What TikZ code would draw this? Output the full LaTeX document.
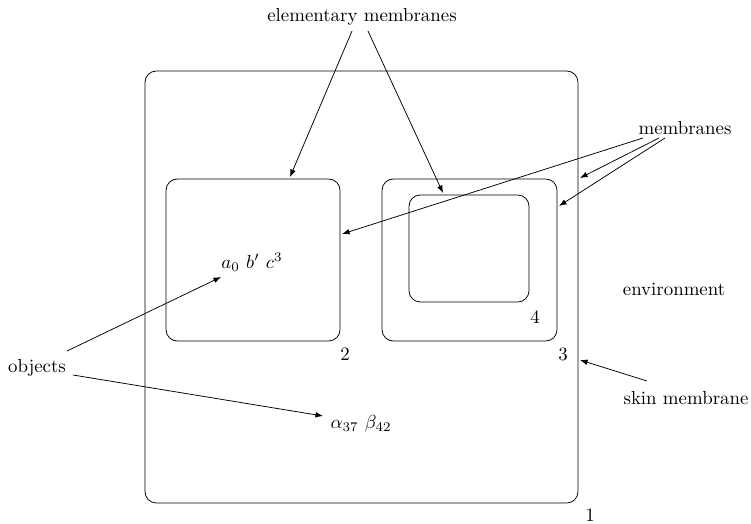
\documentclass[tikz,border=0pt]{standalone}
\usepackage{xcolor}
\usepackage{tikz}
\usetikzlibrary{positioning,fit,arrows.meta}

\begin{document}
\begin{tikzpicture}[x=0.53pt, y=-0.53pt, node distance = 0.3em, >={Latex[length=4pt,width=3pt]}]
            \tikzstyle{membrane} = [draw, rounded corners=6pt, inner sep=0pt];
            \tikzstyle{tag} = [inner sep=1pt]
            \useasboundingbox (0,0) rectangle (751,524);

            \node [membrane, fit={(145,71) (578,503)}] (M1) {};
            \node [membrane, fit={(166,179) (340,341)}] (M2) {};
            \node [membrane, fit={(382,179) (557,341)}] (M3) {};
            \node [membrane, fit={(409,195) (529,302)}] (M4) {};

            \node [tag] (N1) at (590,515) {1};
            \node [tag] (N2) at (345,354) {2};
            \node [tag] (N3) at (563,354) {3};
            \node [tag] (N4) at (535,317) {4};

            \node [tag] (elem) at (362,17) {elementary membranes};
            \node [tag] (memb) at (685,128) {membranes};
            \node [tag] (env) at (674,289) {environment};
            \node [tag] (skin) at (686,398) {skin membrane};
            \node [tag] (obj) at (37,368) {objects};

            \node [tag] (ob2) at (252,262) {$a_0~b'~c^3$};
            \node [tag] (ob1) at (361,424) {$\alpha_{37}~\beta_{42}$};

            \coordinate (e2) at (290,177);
            \coordinate (e4) at (443,193);
            \coordinate (m2) at (342,234);
            \coordinate (m1) at (580,178);
            \coordinate (m3) at (559,206);
            \coordinate (s1) at (580,360);
            \coordinate (o2) at (221,277);
            \coordinate (o1) at (323,416);

            \draw [->] (352,31) -- (e2);
            \draw [->] (368,31) -- (e4);
            \draw [->] (643,138) -- (m2);
            \draw [->] (659,138) -- (m1);
            \draw [->] (665,138) -- (m3);
            \draw [->] (647,381) -- (s1);
            \draw [->] (67,351) -- (o2);
            \draw [->] (73,375) -- (o1);
        \end{tikzpicture}
\end{document}
